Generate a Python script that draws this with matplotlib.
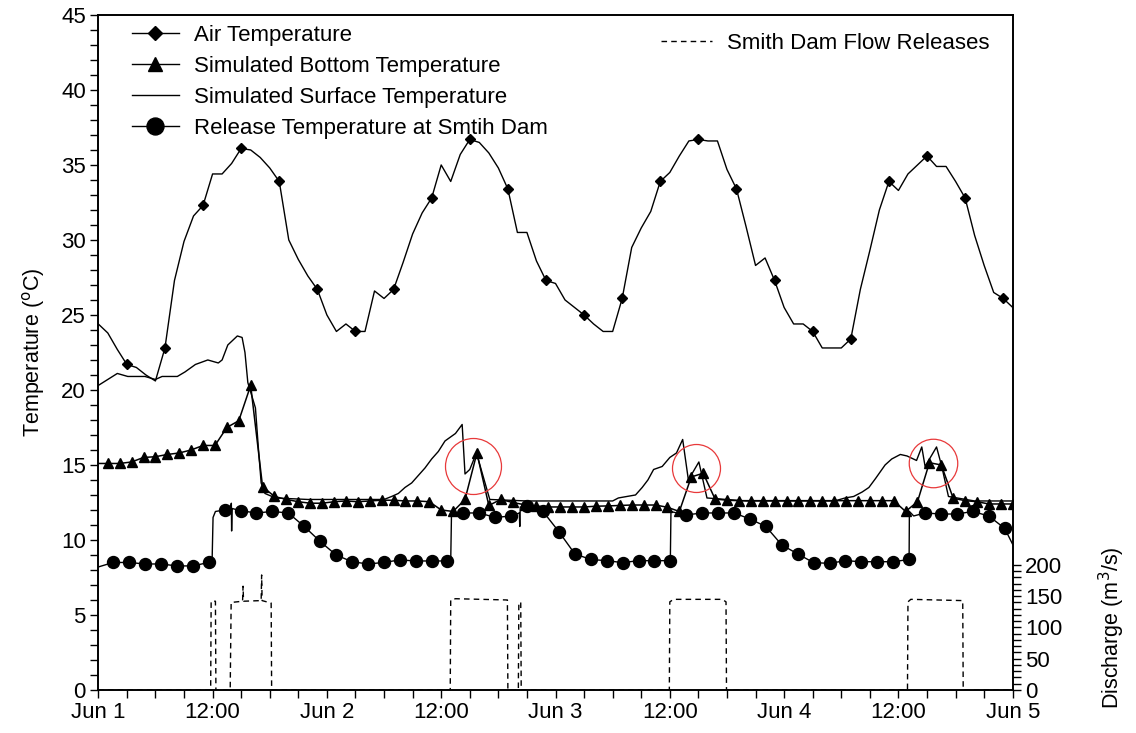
import numpy as np
import matplotlib.pyplot as plt
from matplotlib.lines import Line2D
from matplotlib.ticker import MultipleLocator, FixedLocator

plt.rcParams['font.family'] = ['Liberation Sans', 'DejaVu Sans']

# hours since Jun 1 00:00
t_air = np.arange(97)
air_temp = [24.4, 23.8, 22.7, 21.7, 21.5, 21.0, 20.6, 22.8, 27.3, 29.9,
            31.6, 32.3, 34.4, 34.4, 35.1, 36.1, 36.0, 35.5, 34.8, 33.9,
            30.0, 28.7, 27.6, 26.7, 25.0, 23.9, 24.4, 23.9, 23.9, 26.6,
            26.1, 26.7, 28.5, 30.4, 31.8, 32.8, 35.0, 33.9, 35.7, 36.7,
            36.5, 35.8, 34.8, 33.4, 30.5, 30.5, 28.6, 27.3, 27.1, 26.0,
            25.5, 25.0, 24.4, 23.9, 23.9, 26.1, 29.5, 30.8, 31.9, 33.9,
            34.5, 35.6, 36.6, 36.7, 36.6, 36.6, 34.7, 33.4, 30.9, 28.3,
            28.8, 27.3, 25.5, 24.4, 24.4, 23.9, 22.8, 22.8, 22.8, 23.4,
            26.7, 29.3, 32.0, 33.9, 33.3, 34.4, 35.0, 35.6, 34.9, 34.9,
            33.9, 32.8, 30.3, 28.3, 26.5, 26.1, 25.5]

# bottom temperature, one value every 75 min starting 01:00
t_bottom = 1.0 + 1.25 * np.arange(77)
bottom_temp = [15.1, 15.1, 15.2, 15.5, 15.55, 15.7, 15.8, 16.0, 16.3, 16.3,
               17.5, 17.95, 20.3, 13.55, 12.9, 12.7, 12.55, 12.45, 12.45, 12.55,
               12.6, 12.55, 12.6, 12.65, 12.65, 12.6, 12.6, 12.55, 12.0, 11.9,
               12.7, 15.8, 12.3, 12.7, 12.5, 12.35, 12.25, 12.2, 12.2, 12.2,
               12.2, 12.25, 12.27, 12.3, 12.33, 12.33, 12.33, 12.18, 11.9, 14.2,
               14.45, 12.73, 12.65, 12.62, 12.62, 12.62, 12.62, 12.62, 12.62, 12.62,
               12.62, 12.62, 12.62, 12.62, 12.62, 12.62, 12.62, 11.9, 12.55, 15.15,
               15.0, 12.78, 12.62, 12.55, 12.4, 12.4, 12.4]
bottom_start = (0.0, 15.1)

t_surface = [0, 1.0, 2.0, 3.1, 4.9, 6.0, 6.7, 8.3, 9.1, 10.2,
             11.5, 12.6, 13.0, 13.6, 14.6, 15.1, 15.4, 15.7, 16.5, 16.8,
             17.1, 17.5, 18.6, 22.0, 26.0, 30.0, 30.8, 31.5, 32.2, 32.9,
             33.6, 34.3, 35.0, 35.7, 36.4, 37.5, 38.2, 38.5, 39.0, 39.7,
             41.1, 45.0, 50.0, 54.0, 54.6, 55.5, 56.4, 57.1, 57.7, 58.3,
             59.2, 60.0, 60.7, 61.35, 61.95, 63.05, 63.9, 68.0, 73.0, 77.3,
             78.4, 79.3, 80.2, 80.9, 81.6, 82.6, 83.3, 84.2, 84.9, 85.9,
             86.45, 86.8, 88.0, 88.55, 89.25, 92.0, 96.0]
surface_temp = [20.3, 20.7, 21.1, 20.9, 20.9, 20.7, 20.9, 20.9, 21.2, 21.7,
                22.0, 21.8, 22.0, 23.0, 23.6, 23.5, 22.5, 20.5, 18.8, 16.2,
                13.8, 13.1, 12.8, 12.7, 12.7, 12.7, 12.9, 13.1, 13.5, 13.8,
                14.3, 14.8, 15.4, 15.9, 16.6, 17.1, 17.7, 14.4, 14.7, 15.8,
                12.7, 12.6, 12.6, 12.6, 12.8, 12.9, 13.0, 13.5, 14.0, 14.7,
                14.9, 15.5, 15.8, 16.7, 14.0, 15.2, 12.8, 12.6, 12.6, 12.6,
                12.8, 12.9, 13.2, 13.5, 14.1, 15.0, 15.4, 15.7, 15.6, 15.3,
                16.2, 14.9, 16.2, 14.9, 12.9, 12.6, 12.6]

# release temperature, one value every ~100 min
t_release = 1.57 + 1.671 * np.arange(57)
release_temp = [8.5, 8.5, 8.4, 8.4, 8.27, 8.27, 8.5, 12.0, 11.95, 11.8,
                11.9, 11.8, 10.9, 9.9, 9.0, 8.55, 8.4, 8.5, 8.67, 8.6,
                8.6, 8.6, 11.8, 11.8, 11.5, 11.6, 12.27, 11.9, 10.55, 9.07,
                8.7, 8.62, 8.49, 8.62, 8.62, 8.62, 11.67, 11.8, 11.8, 11.8,
                11.4, 10.9, 9.67, 9.07, 8.49, 8.44, 8.62, 8.55, 8.55, 8.55,
                8.7, 11.8, 11.73, 11.73, 11.9, 11.6, 10.78]
# extra samples around the release switches
t_release_step = [0.0, 11.95, 12.05, 12.3, 13.9, 13.97, 14.0, 14.05, 37.0, 37.08,
                  44.2, 44.25, 44.3, 60.12, 60.4, 85.15, 85.6, 96.0]
release_step = [8.2, 8.6, 11.5, 11.9, 12.2, 12.45, 10.6, 12.1, 8.6, 11.7,
                11.8, 10.9, 12.2, 11.9, 11.85, 11.9, 11.6, 9.7]

t_flow = [0, 11.8, 11.85, 12.3, 12.35, 13.85, 13.95, 15.15, 15.2, 15.25,
          17.1, 17.15, 17.2, 18.15, 18.2, 36.95, 37.0, 37.5, 42.95, 43.0,
          44.1, 44.15, 44.35, 44.4, 59.95, 60.0, 60.4, 65.5, 65.9, 65.95,
          84.95, 85.0, 85.3, 90.75, 90.8, 96]
flow = [0, 0, 142, 142, 0, 0, 140, 142, 166, 142,
        143, 184, 143, 139, 0, 0, 144, 146, 144, 0,
        0, 140, 140, 0, 0, 141, 145, 145, 141, 0,
        0, 141, 145, 143, 0, 0]

# highlighted mixing events: (hour, temperature, diameter in px)
events_t = [39.34, 62.73, 87.58]
events_T = [14.9, 14.83, 15.15]
events_d = [56, 48, 48.5]

tick_labels = ['Jun 1', '12:00', 'Jun 2', '12:00', 'Jun 3',
               '12:00', 'Jun 4', '12:00', 'Jun 5']

fig = plt.figure(figsize=(11.36, 7.33), dpi=100)
ax = fig.add_axes([0.0865, 0.0587, 0.805, 0.9209])
ax2 = ax.twinx()

ax.plot(t_air, air_temp, color='k', lw=1, marker='D', ms=5.5,
        markevery=slice(3, None, 4))
ax.plot(np.r_[bottom_start[0], t_bottom], np.r_[bottom_start[1], bottom_temp],
        color='k', lw=1.1, marker='^', ms=7.2, markevery=slice(1, None))
ax.plot(t_surface, surface_temp, color='k', lw=1)

t_rel_all = np.concatenate([t_release, t_release_step])
rel_all = np.concatenate([release_temp, release_step])
order = np.argsort(t_rel_all)
ax.plot(t_rel_all[order], rel_all[order], color='k', lw=1)
ax.plot(t_release, release_temp, 'o', color='k', ms=8.6)

px2pt = 72 / fig.dpi
for et, eT, ed in zip(events_t, events_T, events_d):
    ax.plot(et, eT, 'o', ms=ed * px2pt, mfc='none', mec='#e8393a', mew=0.9)

ax2.plot(t_flow, flow, color='k', lw=1, ls=(0, (4, 3)))

ax.set_xlim(0, 96)
ax.set_ylim(0, 45)
ax.xaxis.set_major_locator(FixedLocator(np.arange(0, 97, 12)))
ax.xaxis.set_minor_locator(MultipleLocator(3))
ax.set_xticklabels(tick_labels)
ax.yaxis.set_major_locator(MultipleLocator(5))
ax.yaxis.set_minor_locator(MultipleLocator(1))
ax.tick_params(which='both', direction='out', length=5.5, width=1,
               labelsize=16, top=False, right=False)
ax.set_ylabel('Temperature ($^{\\rm o}$C)', fontsize=15.5, labelpad=10)

ax2.set_ylim(0, 1080)
ax2.yaxis.set_major_locator(FixedLocator([0, 50, 100, 150, 200]))
ax2.yaxis.set_minor_locator(FixedLocator(np.arange(0, 201, 10)))
ax2.tick_params(which='both', direction='out', length=5.5, width=1, labelsize=16)
ax2.set_ylabel('Discharge (m$^{3}$/s)', fontsize=15.5)
ax2.yaxis.set_label_coords(1.092, 0.093)

for a in (ax, ax2):
    for s in a.spines.values():
        s.set_linewidth(1.2)

h_air = Line2D([], [], color='k', lw=1, marker='D', ms=7.6)
h_bot = Line2D([], [], color='k', lw=1, marker='^', ms=10)
h_surf = Line2D([], [], color='k', lw=1)
h_rel = Line2D([], [], color='k', lw=1, marker='o', ms=12.2)
ax.legend([h_air, h_bot, h_surf, h_rel],
          ['Air Temperature', 'Simulated Bottom Temperature',
           'Simulated Surface Temperature', 'Release Temperature at Smtih Dam'],
          loc='upper left', bbox_to_anchor=(0.037, 0.985), frameon=False,
          fontsize=16, handlelength=2.1, handletextpad=0.7, labelspacing=0.45,
          borderpad=0, borderaxespad=0)

h_flow = Line2D([], [], color='k', lw=1, ls=(0, (4, 3)))
ax2.legend([h_flow], ['Smith Dam Flow Releases'], loc='upper right',
           bbox_to_anchor=(0.975, 0.973), frameon=False, fontsize=16,
           handlelength=2.3, handletextpad=0.7, borderpad=0, borderaxespad=0)

fig.savefig('out.png', dpi=100)
